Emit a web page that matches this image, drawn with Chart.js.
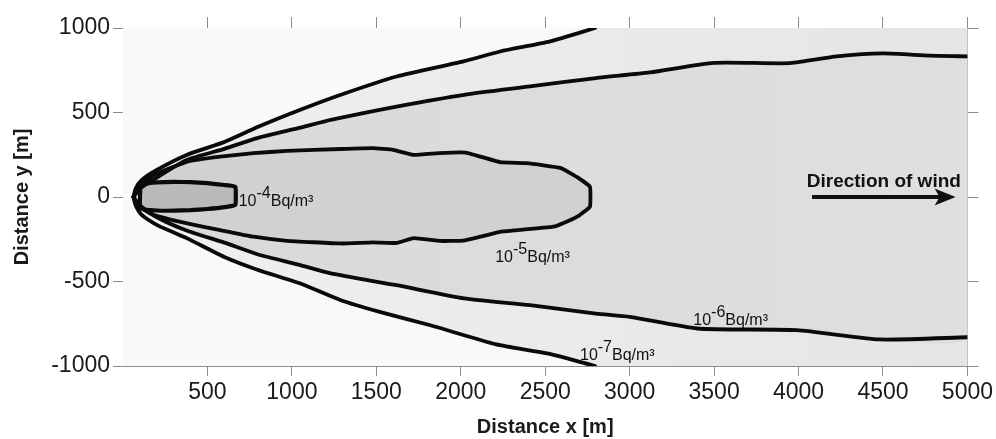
<!DOCTYPE html>
<html lang="en">
<head>
<meta charset="UTF-8" />
<title>Concentration contours</title>
<script src="https://cdn.jsdelivr.net/npm/chart.js"></script>
<style>
  body { margin: 0; background: #fff; }
  #wrap { width: 996px; height: 439px; }
</style>
</head>
<body>
<div id="wrap"><canvas id="plumeChart"></canvas></div>
<script>
  // Contour lines (x, y in metres) for each concentration level
  const lvl7UpperX = [62, 75, 110, 200, 380, 600, 800, 1050, 1290, 1620, 2016, 2233, 2529, 2795];
  const lvl7UpperY = [0, 50, 100, 160, 250, 325, 415, 516, 605, 713, 802, 861, 921, 1000];
  const lvl7LowerX = [62, 75, 110, 200, 380, 600, 800, 1050, 1290, 1520, 1820, 2210, 2520, 2795];
  const lvl7LowerY = [0, -50, -105, -165, -245, -355, -432, -512, -611, -680, -759, -872, -927, -1000];

  const lvl6UpperX = [62, 100, 200, 380, 600, 800, 1050, 1230, 1620, 2020, 2410, 2800, 3120, 3500, 3950, 4225, 4500, 4780, 5000];
  const lvl6UpperY = [0, 50, 115, 220, 285, 350, 410, 456, 535, 605, 654, 704, 737, 794, 792, 832, 850, 836, 832];
  const lvl6LowerX = [62, 100, 200, 380, 600, 800, 1050, 1230, 1620, 2020, 2410, 2800, 3000, 3400, 3990, 4480, 5000];
  const lvl6LowerY = [0, -50, -120, -200, -270, -340, -403, -452, -522, -600, -640, -690, -709, -778, -788, -843, -830];

  const lvl5X = [62, 90, 182, 380, 576, 773, 971, 1290, 1480, 1600, 1720, 1870, 2030, 2233, 2390, 2590, 2700, 2765,
                 2765, 2700, 2640, 2548, 2312, 2233, 2115, 2016, 1880, 1720, 1620, 1480, 1290, 971, 773, 576, 380, 182, 90, 62];
  const lvl5Y = [0, 60, 130, 209, 239, 259, 273, 284, 289, 279, 249, 260, 263, 206, 200, 172, 110, 60,
                 -58, -110, -140, -176, -198, -206, -235, -258, -260, -243, -272, -268, -275, -259, -235, -196, -156, -107, -55, 0];

  const lvl4X = [103, 200, 300, 400, 500, 600, 665, 665, 600, 500, 400, 300, 200, 103, 103];
  const lvl4Y = [77, 86, 89, 88, 82, 71, 61, -47, -60, -71, -78, -81, -80, -67, 77];

  // Contour labels: exponent of 10 (Bq/m³) and anchor in metres
  const labelExp = ['-4', '-5', '-6', '-7'];
  const labelX = [685, 2204, 3377, 2706];
  const labelY = [-56, -384, -759, -966];

  // Axis ticks
  const xTicks = [500, 1000, 1500, 2000, 2500, 3000, 3500, 4000, 4500, 5000];
  const yTicks = [-1000, -500, 0, 500, 1000];

  // Wind arrow, metres
  const windX = [4080, 4930];
  const windY = 0;
  const windText = 'Direction of wind';

  const zip = (xs, ys) => xs.map((x, i) => ({ x: x, y: ys[i] }));
  const FONT = "'Liberation Sans', Arial, sans-serif";

  // closed fill outlines
  const fill7 = zip(lvl7UpperX, lvl7UpperY)
    .concat([{ x: 5000, y: 1000 }, { x: 5000, y: -1000 }])
    .concat(zip(lvl7LowerX, lvl7LowerY).reverse());
  const fill6 = zip(lvl6UpperX, lvl6UpperY).concat(zip(lvl6LowerX, lvl6LowerY).reverse());

  // horizontal grey ramp across the plot area
  function ramp(from, to) {
    return ctx => {
      const a = ctx.chart.chartArea;
      if (!a) return from;
      const g = ctx.chart.ctx.createLinearGradient(a.left, 0, a.right, 0);
      g.addColorStop(0, from);
      g.addColorStop(1, to);
      return g;
    };
  }

  function fillSet(data, color, order) {
    return { data: data, showLine: true, fill: 'shape', backgroundColor: color,
             borderWidth: 0, pointRadius: 0, tension: 0.2, order: order };
  }
  function lineSet(data, width, tension) {
    return { data: data, showLine: true, fill: false, borderColor: '#0a0a0a',
             borderWidth: width, pointRadius: 0, tension: tension, order: 1,
             borderJoinStyle: 'round', borderCapStyle: 'round' };
  }

  const plotBackground = {
    id: 'plotBackground',
    beforeDatasetsDraw(chart) {
      const { ctx, chartArea: a } = chart;
      ctx.save();
      ctx.fillStyle = '#f9f9f9';
      ctx.fillRect(a.left, a.top, a.right - a.left, a.bottom - a.top);
      ctx.restore();
    }
  };

  const annotations = {
    id: 'annotations',
    afterDatasetsDraw(chart) {
      const { ctx, scales: { x, y } } = chart;
      ctx.save();
      ctx.fillStyle = '#111';
      ctx.textBaseline = 'alphabetic';
      ctx.font = '16px ' + FONT;
      labelExp.forEach((e, i) => {
        let px = x.getPixelForValue(labelX[i]);
        const py = y.getPixelForValue(labelY[i]);
        ctx.fillText('10', px, py);
        px += ctx.measureText('10').width;
        ctx.fillText(e, px, py - 8);
        px += ctx.measureText(e).width;
        ctx.fillText('Bq/m³', px, py);
      });

      // wind arrow
      const x0 = x.getPixelForValue(windX[0]);
      const x1 = x.getPixelForValue(windX[1]);
      const wy = y.getPixelForValue(windY);
      ctx.strokeStyle = '#111';
      ctx.lineWidth = 4;
      ctx.beginPath();
      ctx.moveTo(x0, wy);
      ctx.lineTo(x1 - 14, wy);
      ctx.stroke();
      ctx.beginPath();
      ctx.moveTo(x1, wy);
      ctx.lineTo(x1 - 21, wy - 8.5);
      ctx.lineTo(x1 - 16, wy);
      ctx.lineTo(x1 - 21, wy + 8.5);
      ctx.closePath();
      ctx.fill();
      ctx.font = 'bold 19px ' + FONT;
      ctx.textAlign = 'center';
      ctx.fillText(windText, (x0 + x1) / 2, wy - 10);
      ctx.restore();
    }
  };

  const axisColor = '#8c8c8c';
  const tickFont = { family: FONT, size: 23 };
  const titleFont = { family: FONT, size: 20, weight: 'bold' };
  const plain = v => String(v);

  new Chart(document.getElementById('plumeChart'), {
    type: 'scatter',
    data: {
      datasets: [
        fillSet(fill7, ramp('#f0f0f0', '#e5e5e5'), 10),
        fillSet(fill6, ramp('#d9d9d9', '#dfdfdf'), 9),
        fillSet(zip(lvl5X, lvl5Y), '#d1d1d1', 8),
        fillSet(zip(lvl4X, lvl4Y), '#bababa', 7),
        lineSet(zip(lvl7UpperX, lvl7UpperY), 3.8, 0.2),
        lineSet(zip(lvl7LowerX, lvl7LowerY), 3.8, 0.2),
        lineSet(zip(lvl6UpperX, lvl6UpperY), 3.8, 0.2),
        lineSet(zip(lvl6LowerX, lvl6LowerY), 3.8, 0.2),
        lineSet(zip(lvl5X, lvl5Y), 3.8, 0.1),
        lineSet(zip(lvl4X, lvl4Y), 4.2, 0.1)
      ]
    },
    options: {
      responsive: true,
      maintainAspectRatio: false,
      animation: false,
      layout: { padding: 0 },
      plugins: { legend: { display: false }, tooltip: { enabled: false } },
      scales: {
        x: {
          type: 'linear', position: 'bottom', min: 0, max: 5000,
          afterBuildTicks: s => { s.ticks = xTicks.map(v => ({ value: v })); },
          afterFit: s => { s.height = 73; },
          ticks: { font: tickFont, color: '#1a1a1a', padding: 3, maxRotation: 0, autoSkip: false, callback: plain },
          grid: { drawOnChartArea: false, tickLength: 10, color: axisColor },
          border: { color: axisColor },
          title: { display: true, text: 'Distance x [m]', font: titleFont, color: '#1a1a1a', padding: 0 }
        },
        x2: {
          type: 'linear', position: 'top', min: 0, max: 5000,
          afterBuildTicks: s => { s.ticks = xTicks.map(v => ({ value: v })); },
          afterFit: s => { s.height = 28; },
          ticks: { display: false },
          grid: { drawOnChartArea: false, tickLength: 11, color: axisColor },
          border: { color: axisColor }
        },
        y: {
          type: 'linear', position: 'left', min: -1000, max: 1000,
          afterBuildTicks: s => { s.ticks = yTicks.map(v => ({ value: v })); },
          afterFit: s => { s.width = 123; },
          ticks: { font: tickFont, color: '#1a1a1a', padding: 3, callback: plain },
          grid: { drawOnChartArea: false, tickLength: 10, color: axisColor },
          border: { color: axisColor },
          title: { display: true, text: 'Distance y [m]', font: titleFont, color: '#1a1a1a', padding: { top: 10, bottom: 0 } }
        },
        y2: {
          type: 'linear', position: 'right', min: -1000, max: 1000,
          afterBuildTicks: s => { s.ticks = yTicks.map(v => ({ value: v })); },
          afterFit: s => { s.width = 28; },
          ticks: { display: false },
          grid: { drawOnChartArea: false, tickLength: 11, color: axisColor },
          border: { color: axisColor }
        }
      }
    },
    plugins: [plotBackground, annotations]
  });
</script>
</body>
</html>
